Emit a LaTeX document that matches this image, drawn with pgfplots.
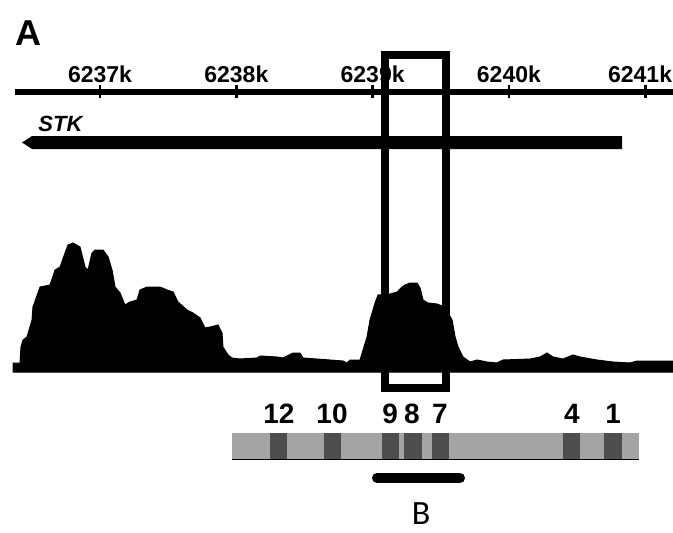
\documentclass[border=0pt]{standalone}
\usepackage{pgfplots}
\pgfplotsset{compat=1.18}
\usepackage{fontspec}
\setmainfont{Liberation Sans}
\newfontfamily\calibri{Carlito}

\definecolor{trackgray}{HTML}{A4A4A4}
\definecolor{exongray}{HTML}{4E4E4E}

% coverage track: genomic position (kb) vs. height (plot units, baseline at 160)
\begin{document}
\begin{tikzpicture}
\useasboundingbox (0,0) rectangle (336.5pt,266pt);
\clip (0,0) rectangle (336.5pt,266pt);
\begin{axis}[
  scale only axis, width=336.5pt, height=266pt,
  xmin=6236.266, xmax=6241.204, ymin=0, ymax=532,
  hide axis, clip=false]

% read coverage
\addplot[fill=black, draw=black, line width=0.5pt] coordinates {
 (6236.362,160)(6236.362,169)(6236.413,169)(6236.420,185)(6236.435,192)
 (6236.464,195)(6236.501,212)(6236.508,225)(6236.560,245)(6236.633,247)
 (6236.670,262)(6236.707,265)(6236.743,279)(6236.765,287)(6236.802,289)
 (6236.853,285)(6236.890,265)(6236.912,262)(6236.941,279)(6236.963,282)
 (6237.022,282)(6237.059,275)(6237.088,262)(6237.110,245)(6237.147,239)
 (6237.183,227)(6237.220,230)(6237.271,232)(6237.293,242)(6237.345,245)
 (6237.440,245)(6237.492,242)(6237.536,240)(6237.572,230)(6237.638,222)
 (6237.682,219)(6237.734,214)(6237.770,204)(6237.807,205)(6237.866,207)
 (6237.895,199)(6237.902,185)(6237.939,177)(6237.968,174)(6238.027,173)
 (6238.152,174)(6238.174,176)(6238.299,175)(6238.343,174)(6238.416,179)
 (6238.467,179)(6238.489,174)(6238.687,172)(6238.783,171)(6238.812,169)
 (6238.834,172)(6238.908,172)(6238.930,182)(6238.959,195)(6238.981,212)
 (6239.018,229)(6239.040,237)(6239.128,238)(6239.179,240)(6239.216,245)
 (6239.238,247)(6239.274,249)(6239.326,249)(6239.348,244)(6239.370,232)
 (6239.406,229)(6239.472,228)(6239.531,225)(6239.553,219)(6239.583,212)
 (6239.605,195)(6239.627,185)(6239.663,175)(6239.715,170)(6239.766,172)
 (6239.839,170)(6239.913,169)(6239.957,172)(6240.155,173)(6240.228,175)
 (6240.280,179)(6240.324,175)(6240.397,173)(6240.470,177)(6240.522,175)
 (6240.646,172)(6240.764,170)(6240.888,169)(6240.940,171)(6241.204,171)
 (6241.204,160)} -- cycle;

% ruler
\draw[line width=3pt] (axis cs:6236.376,440.5) -- (axis cs:6241.204,440.5);
\pgfplotsinvokeforeach{6237,6238,6239,6240,6241}{
  \draw[line width=1.3pt] (axis cs:#1,434) -- (axis cs:#1,447);
}
\pgfplotsinvokeforeach{6237,6238,6239,6240}{
  \node[anchor=base, inner sep=0pt, font=\fontsize{11.5}{13}\selectfont\bfseries]
    at (axis cs:#1,450) {#1k};
}
\node[anchor=base east, inner sep=0pt, font=\fontsize{11.5}{13}\selectfont\bfseries]
  at (axis cs:6241.200,450) {6241k};
\node[anchor=base west, inner sep=0pt, font=\fontsize{18}{20}\selectfont\bfseries]
  at (axis cs:6236.376,487) {A};

% gene model
\addplot[fill=black, draw=none] coordinates {
 (6236.428,389.5)(6236.501,396)(6240.830,396)(6240.830,383)(6236.501,383)} -- cycle;
\node[anchor=base west, inner sep=0pt, font=\fontsize{11}{13}\selectfont\bfseries\itshape]
  at (axis cs:6236.545,401) {STK};

% selected window
\draw[line width=3.8pt] (axis cs:6239.091,144) rectangle (axis cs:6239.538,477);

% exon track
\addplot[fill=trackgray, draw=none] coordinates {
 (6237.968,73)(6237.968,99)(6240.955,99)(6240.955,73)} -- cycle;
\draw[line width=0.6pt] (axis cs:6237.968,72.5) -- (axis cs:6240.955,72.5);
\addplot[fill=exongray, draw=none] coordinates {(6238.247,73)(6238.247,99)(6238.372,99)(6238.372,73)} -- cycle;
\addplot[fill=exongray, draw=none] coordinates {(6238.643,73)(6238.643,99)(6238.768,99)(6238.768,73)} -- cycle;
\addplot[fill=exongray, draw=none] coordinates {(6239.069,73)(6239.069,99)(6239.194,99)(6239.194,73)} -- cycle;
\addplot[fill=exongray, draw=none] coordinates {(6239.230,73)(6239.230,99)(6239.362,99)(6239.362,73)} -- cycle;
\addplot[fill=exongray, draw=none] coordinates {(6239.436,73)(6239.436,99)(6239.561,99)(6239.561,73)} -- cycle;
\addplot[fill=exongray, draw=none] coordinates {(6240.397,73)(6240.397,99)(6240.522,99)(6240.522,73)} -- cycle;
\addplot[fill=exongray, draw=none] coordinates {(6240.698,73)(6240.698,99)(6240.830,99)(6240.830,73)} -- cycle;
\node[anchor=base, inner sep=0pt, font=\fontsize{14}{16}\selectfont\bfseries] at (axis cs:6238.313,109) {12};
\node[anchor=base, inner sep=0pt, font=\fontsize{14}{16}\selectfont\bfseries] at (axis cs:6238.702,109) {10};
\node[anchor=base, inner sep=0pt, font=\fontsize{14}{16}\selectfont\bfseries] at (axis cs:6239.128,109) {9};
\node[anchor=base, inner sep=0pt, font=\fontsize{14}{16}\selectfont\bfseries] at (axis cs:6239.289,109) {8};
\node[anchor=base, inner sep=0pt, font=\fontsize{14}{16}\selectfont\bfseries] at (axis cs:6239.494,109) {7};
\node[anchor=base, inner sep=0pt, font=\fontsize{14}{16}\selectfont\bfseries] at (axis cs:6240.463,109) {4};
\node[anchor=base, inner sep=0pt, font=\fontsize{14}{16}\selectfont\bfseries] at (axis cs:6240.764,109) {1};

% region B
\draw[line width=5pt, line cap=round] (axis cs:6239.032,54) -- (axis cs:6239.641,54);
\node[anchor=base, inner sep=0pt, font=\fontsize{17}{20}\selectfont\calibri]
  at (axis cs:6239.355,8) {B};
\end{axis}
\end{tikzpicture}
\end{document}
